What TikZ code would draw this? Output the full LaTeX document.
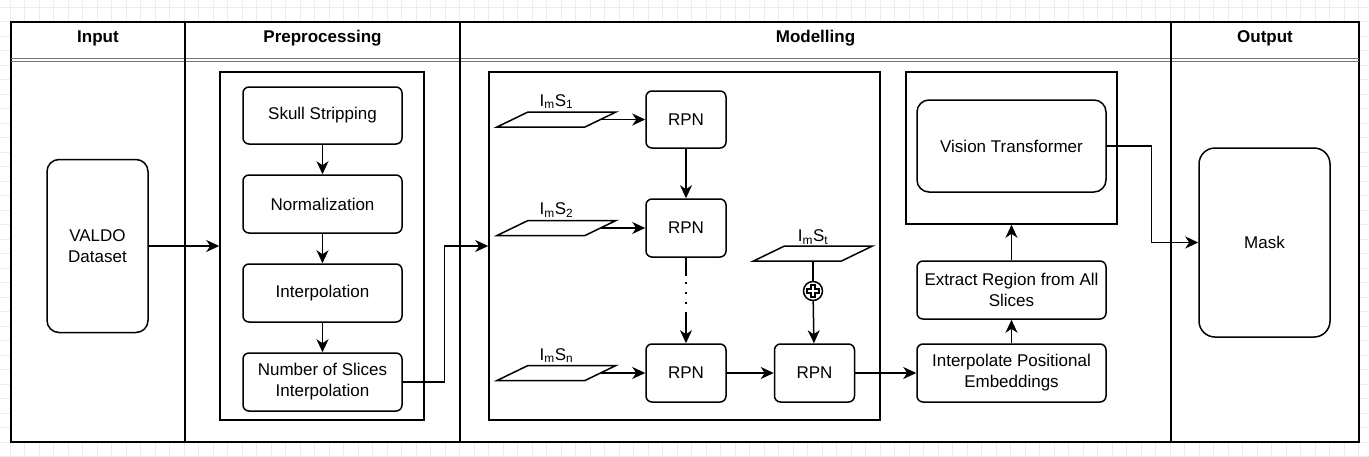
\documentclass[tikz,border=0pt]{standalone}
\usepackage{fontspec}
\setmainfont{Liberation Sans}
\usetikzlibrary{arrows.meta}

\begin{document}
\begin{tikzpicture}[x=1pt, y=-1pt,
    every node/.style={font=\fontsize{17}{21}\selectfont, align=center, inner sep=0},
    head/.style={font=\fontsize{17}{21}\selectfont\bfseries},
    lane/.style={line width=1.5pt},
    box/.style={rectangle, draw, line width=1.5pt, rounded corners=6pt, minimum width=159pt, minimum height=58pt},
    rpn/.style={box, minimum width=80pt},
    wide/.style={box, minimum width=189pt},
    frame/.style={rectangle, draw, line width=1.5pt},
    slice/.style={rectangle, draw, line width=1.5pt, minimum width=88pt, minimum height=15pt, xslant=2.067, transform shape},
    oplus/.style={circle, draw, line width=1.5pt, minimum size=19pt,
        path picture={\draw[line width=1.1pt] (path picture bounding box.center)
            ++(-2,-6) -- ++(4,0) -- ++(0,4) -- ++(4,0) -- ++(0,4) -- ++(-4,0) -- ++(0,4)
            -- ++(-4,0) -- ++(0,-4) -- ++(-4,0) -- ++(0,-4) -- ++(4,0) -- cycle;}},
    link/.style={line width=1.5pt},
    arr/.style={link, -{Stealth[length=13pt, width=12pt, inset=4pt]}}
]
\useasboundingbox (0,0) rectangle (1369,456);
% grid of the canvas
\foreach \k in {0,...,93}
    \draw[black!7] (10+14.5*\k,0) -- (10+14.5*\k,456);
\foreach \k in {0,...,31}
    \draw[black!7] (0,7+14.5*\k) -- (1369,7+14.5*\k);

% swimlanes
\draw[lane, fill=white] (11,22) rectangle (1359,442);
\draw[black!55, line width=1pt] (11,58.5) -- (1359,58.5) (11,61.5) -- (1359,61.5);
\draw[lane] (185,22) -- (185,442) (460,22) -- (460,442) (1171,22) -- (1171,442);
\draw
    (98,38)node[head](hin){Input}
    (322.5,38)node[head](hpre){Preprocessing}
    (815.5,38)node[head](hmod){Modelling}
    (1265,38)node[head](hout){Output};

% input and preprocessing
\draw
    (97.5,246)node[box, minimum width=101pt, minimum height=173pt, rounded corners=12pt](valdo){VALDO\\Dataset}
    (322,246)node[frame, minimum width=204pt, minimum height=348pt](pre){}
    (322.5,115.5)node[box, minimum height=57pt](skull){Skull Stripping}
    (skull.south)node[box, anchor=north, yshift=-29.5pt](norm){Normalization}
    (norm.south)node[box, anchor=north, yshift=-29.5pt](interp){Interpolation}
    (interp.south)node[box, anchor=north, yshift=-29.5pt](nslices){Number of Slices\\Interpolation};

% modelling
\draw
    (684.5,246)node[frame, minimum width=391pt, minimum height=348pt](mod){}
    (686,119.5)node[rpn, minimum height=57pt](rpn1){RPN}
    (686,228)node[rpn](rpn2){RPN}
    (686,373)node[rpn](rpn3){RPN}
    (rpn3.east)node[rpn, anchor=west, xshift=47pt](rpn4){RPN}
    (556.5,119.5)node[slice](s1){}
    (556.5,228)node[slice](s2){}
    (556.5,373)node[slice](sn){}
    (813,253.5)node[slice](st){}
    (813,291)node[oplus](plus){}
    ([yshift=18pt]s1.center)node(l1){I\textsubscript{m}S\textsubscript{1}}
    ([yshift=18pt]s2.center)node(l2){I\textsubscript{m}S\textsubscript{2}}
    ([yshift=17.5pt]sn.center)node(ln){I\textsubscript{m}S\textsubscript{n}}
    ([yshift=16.5pt]st.center)node(lt){I\textsubscript{m}S\textsubscript{t}}
    (1011.5,148)node[frame, minimum width=211pt, minimum height=152pt](vitbox){}
    (1011.5,146)node[wide, minimum height=92pt, rounded corners=12pt](vit){Vision Transformer}
    (1011.5,290)node[wide](extract){Extract Region from All\\Slices}
    (1011.5,373)node[wide](posemb){Interpolate Positional\\Embeddings};

% output
\draw
    (1264.5,242.5)node[box, minimum width=131pt, minimum height=189pt, rounded corners=16pt](mask){Mask};

% connectors
\draw[arr] (valdo.east) -- (pre.west);
\draw[arr] (skull) -- (norm);
\draw[arr] (norm) -- (interp);
\draw[arr] (interp) -- (nslices);
\draw[arr] (nslices.east) -| ([xshift=-44pt]mod.west) -- (mod.west);
\draw[arr] (s1.east) -- (rpn1.west);
\draw[arr] (s2.east) -- (rpn2.west);
\draw[arr] (sn.east) -- (rpn3.west);
\draw[arr] (rpn1) -- (rpn2);
\draw[arr, dash pattern=on 18pt off 6pt on 2pt off 8pt on 2pt off 8pt on 2pt off 8pt on 80pt off 0pt] (rpn2) -- (rpn3);
\draw[arr] (rpn3) -- (rpn4);
\draw[link] (plus |- st.south) -- (plus);
\draw[arr] (plus) -- (rpn4);
\draw[arr] (rpn4) -- (posemb);
\draw[arr] (posemb) -- (extract);
\draw[arr] (extract) -- (vitbox);
\draw[arr] (vit.east) -| ([xshift=-47pt]mask.west) -- (mask.west);
\end{tikzpicture}
\end{document}
